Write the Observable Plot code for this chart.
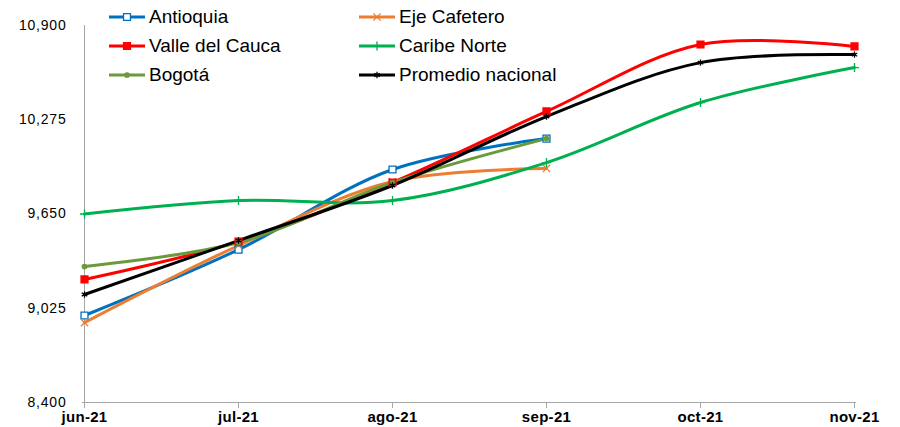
<!DOCTYPE html>
<html>
<head>
<meta charset="utf-8">
<script src="https://cdn.jsdelivr.net/npm/d3@7"></script>
<script src="https://cdn.jsdelivr.net/npm/@observablehq/plot@0.6"></script>
<style>
  html, body { margin: 0; padding: 0; background: #fff; }
  #wrap { position: relative; width: 900px; height: 427px; font-family: "Liberation Sans", Arial, sans-serif; }
  #legend { position: absolute; left: 0; top: 0; width: 900px; height: 100px; pointer-events: none; }
  .item { position: absolute; display: flex; align-items: center; font-size: 19px; color: #000; white-space: nowrap; }
  .item svg { margin-right: 3px; }
  .yax text { letter-spacing: 0.8px; }
  .xax text { letter-spacing: 0.3px; }
</style>
</head>
<body>
<div id="wrap"><div id="chart"></div><div id="legend"></div></div>
<script>
const months = ["jun-21", "jul-21", "ago-21", "sep-21", "oct-21", "nov-21"];
const yTicks = [8400, 9025, 9650, 10275, 10900];

const antioquia   = [8977, 9414, 9945, 10150];
const ejeCafetero = [8930, 9441, 9865, 9952];
const valle       = [9216, 9467, 9859, 10330, 10774, 10761];
const caribe      = [9650, 9739, 9739, 9991, 10389, 10621];
const bogota      = [9302, 9461, 9859, 10150];
const promedio    = [9116, 9474, 9839, 10296, 10654, 10707];

const seriesNames = ["Antioquia", "Eje Cafetero", "Valle del Cauca", "Caribe Norte", "Bogotá", "Promedio nacional"];
const seriesValues = [antioquia, ejeCafetero, valle, caribe, bogota, promedio];
const colors = ["#0070C0", "#ED7D31", "#FF0000", "#00B050", "#6A9A3C", "#000000"];
const symbols = ["square", "times", "square", "plus", "circle", "asterisk"];
const fills = ["#ffffff", "none", "#FF0000", "none", "#6A9A3C", "none"];
const sizes = [3.9, 3.4, 3.9, 3, 2.2, 3];

const data = seriesNames.flatMap((name, i) =>
  seriesValues[i].map((v, j) => ({ series: name, month: months[j], value: v, i })));

const marks = [
  Plot.ruleY([8400], { stroke: "#A6A6A6", strokeWidth: 1 }),
  Plot.ruleX([months[0]], { stroke: "#A6A6A6", strokeWidth: 1 }),
  Plot.axisX({ className: "xax", tickSize: 6, tickPadding: 3, stroke: "#A6A6A6", fontWeight: "bold", fontSize: 15, label: null }),
  Plot.axisY({ className: "yax", ticks: yTicks, tickSize: 0, tickPadding: 16, tickFormat: d3.format(","), fontSize: 14, label: null })
];
seriesNames.forEach((name, i) => {
  const d = data.filter(r => r.series === name);
  marks.push(Plot.line(d, { x: "month", y: "value", stroke: colors[i], strokeWidth: 3, curve: "catmull-rom" }));
});
seriesNames.forEach((name, i) => {
  const d = data.filter(r => r.series === name);
  marks.push(Plot.dot(d, { x: "month", y: "value", symbol: () => symbols[i], stroke: colors[i], fill: fills[i], r: sizes[i], strokeWidth: 1.3 }));
});

const chart = Plot.plot({
  width: 900,
  height: 427,
  marginLeft: 82,
  marginRight: 44,
  marginTop: 25,
  marginBottom: 25,
  style: { fontFamily: "'Liberation Sans', Arial, sans-serif", fontSize: "13px", color: "#000", background: "#fff" },
  x: { type: "point", domain: months, padding: 0 },
  y: { domain: [8400, 10900] },
  marks
});
document.getElementById("chart").appendChild(chart);

// Legend (overlay)
const legend = document.getElementById("legend");
const pos = [[108, 17], [358, 17], [108, 46], [358, 46], [108, 75], [358, 75]];
seriesNames.forEach((name, i) => {
  const el = document.createElement("div");
  el.className = "item";
  el.style.left = pos[i][0] + "px";
  el.style.top = (pos[i][1] - 11) + "px";
  const sym = d3.symbol(
    { square: d3.symbolSquare, times: d3.symbolTimes, plus: d3.symbolPlus, circle: d3.symbolCircle, asterisk: d3.symbolAsterisk }[symbols[i]],
    Math.PI * sizes[i] * sizes[i])();
  el.innerHTML = `<svg width="38" height="22"><line x1="1" x2="37" y1="11" y2="11" stroke="${colors[i]}" stroke-width="3"/>` +
    `<path d="${sym}" transform="translate(19,11)" stroke="${colors[i]}" fill="${fills[i]}" stroke-width="1.3"/></svg>` +
    `<span>${name}</span>`;
  legend.appendChild(el);
});
</script>
</body>
</html>
